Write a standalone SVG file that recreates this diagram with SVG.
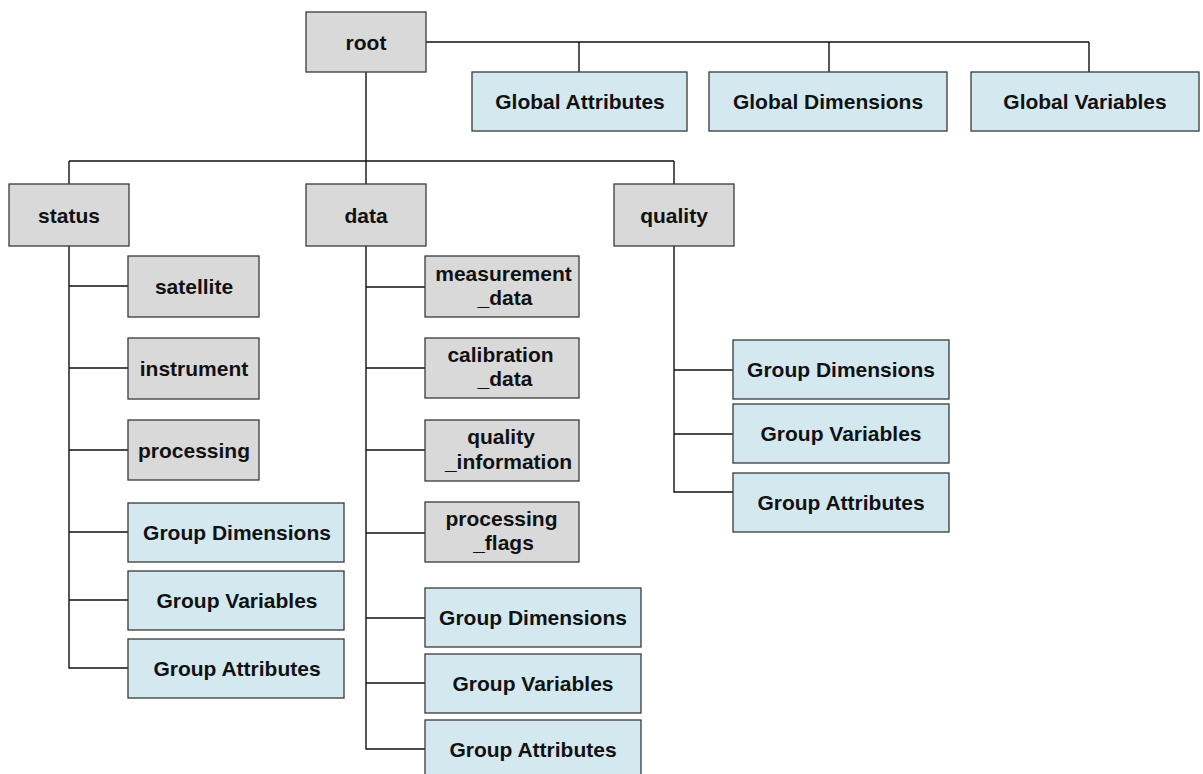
<svg xmlns="http://www.w3.org/2000/svg" width="1203" height="774" viewBox="0 0 1203 774">
<style>
.g{fill:#d9d9d9;stroke:#3a3a3a;stroke-width:1.3}
.b{fill:#d4e9ef;stroke:#3a3a3a;stroke-width:1.3}
text{font-family:"Liberation Sans",Arial,sans-serif;font-weight:bold;font-size:21px;fill:#111;text-anchor:middle}
.c{fill:none;stroke:#111;stroke-width:1.4}
</style>
<rect width="1203" height="774" fill="#fff"/>
<g id="connectors" class="c">
<path class="c" d="M426,42H1089M579,42V72M829,42V72M1089,42V72"/>
<path class="c" d="M366,72V184M69,161H674M69,161V184M674,161V184"/>
<path class="c" d="M69,246V668H128M69,286H128M69,368H128M69,450H128M69,532H128M69,600H128"/>
<path class="c" d="M366,246V749H425M366,287H425M366,368H425M366,450H425M366,533H425M366,618H425M366,683H425"/>
<path class="c" d="M674,246V492H733M674,370H733M674,434H733"/>
</g>
<g id="root"><rect class="g" x="306" y="12" width="120" height="60"/><text x="366" y="49.5">root</text></g>
<g id="global-attributes"><rect class="b" x="472" y="72" width="215" height="59"/><text x="580" y="109">Global Attributes</text></g>
<g id="global-dimensions"><rect class="b" x="709" y="72" width="238" height="59"/><text x="828" y="109">Global Dimensions</text></g>
<g id="global-variables"><rect class="b" x="971" y="72" width="228" height="59"/><text x="1085" y="109">Global Variables</text></g>
<g id="status"><rect class="g" x="9" y="184" width="120" height="62"/><text x="69" y="222.5">status</text></g>
<g id="data"><rect class="g" x="306" y="184" width="120" height="62"/><text x="366" y="222.5">data</text></g>
<g id="quality"><rect class="g" x="614" y="184" width="120" height="62"/><text x="674" y="222.5">quality</text></g>
<g id="satellite"><rect class="g" x="128" y="256" width="131" height="61"/><text x="194" y="294">satellite</text></g>
<g id="instrument"><rect class="g" x="128" y="338" width="131" height="61"/><text x="194" y="376">instrument</text></g>
<g id="processing"><rect class="g" x="128" y="420" width="131" height="60"/><text x="194" y="457.5">processing</text></g>
<g id="status-group-dimensions"><rect class="b" x="128" y="503" width="216" height="59"/><text x="237" y="540">Group Dimensions</text></g>
<g id="status-group-variables"><rect class="b" x="128" y="571" width="216" height="59"/><text x="237" y="608">Group Variables</text></g>
<g id="status-group-attributes"><rect class="b" x="128" y="639" width="216" height="59"/><text x="237" y="676">Group Attributes</text></g>
<g id="measurement-data"><rect class="g" x="425" y="256" width="154" height="61"/><text x="503.5" y="280.5">measurement</text><text x="505" y="304.5">_data</text></g>
<g id="calibration-data"><rect class="g" x="425" y="338" width="154" height="60"/><text x="500.5" y="362">calibration</text><text x="505" y="386">_data</text></g>
<g id="quality-information"><rect class="g" x="425" y="420" width="154" height="61"/><text x="501" y="444">quality</text><text x="508.5" y="469">_information</text></g>
<g id="processing-flags"><rect class="g" x="425" y="502" width="154" height="60"/><text x="501.5" y="526">processing</text><text x="503.5" y="550">_flags</text></g>
<g id="data-group-dimensions"><rect class="b" x="425" y="588" width="216" height="59"/><text x="533" y="625">Group Dimensions</text></g>
<g id="data-group-variables"><rect class="b" x="425" y="654" width="216" height="59"/><text x="533" y="691">Group Variables</text></g>
<g id="data-group-attributes"><rect class="b" x="425" y="720" width="216" height="59"/><text x="533" y="757">Group Attributes</text></g>
<g id="quality-group-dimensions"><rect class="b" x="733" y="340" width="216" height="59"/><text x="841" y="377">Group Dimensions</text></g>
<g id="quality-group-variables"><rect class="b" x="733" y="404" width="216" height="59"/><text x="841" y="441">Group Variables</text></g>
<g id="quality-group-attributes"><rect class="b" x="733" y="473" width="216" height="59"/><text x="841" y="510">Group Attributes</text></g>
</svg>
